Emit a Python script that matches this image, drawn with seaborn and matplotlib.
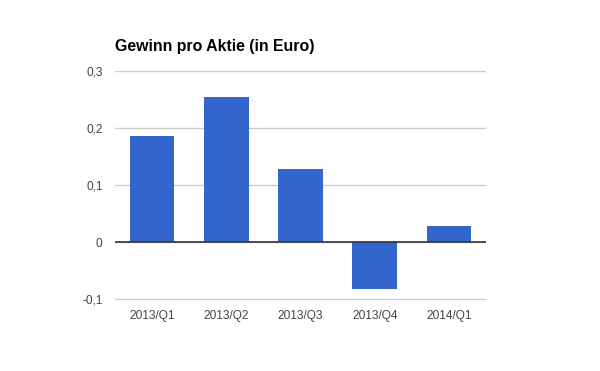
import matplotlib
matplotlib.use("Agg")
import matplotlib.pyplot as plt
import seaborn as sns
import pandas as pd

# Daten
quartale = ['2013/Q1', '2013/Q2', '2013/Q3', '2013/Q4', '2014/Q1']
gewinn = [0.187, 0.255, 0.129, -0.081, 0.029]
y_ticks = [-0.1, 0, 0.1, 0.2, 0.3]
y_labels = ['-0,1', '0', '0,1', '0,2', '0,3']

sns.set_style('white')
plt.rcParams['font.family'] = ['Liberation Sans', 'DejaVu Sans']

df = pd.DataFrame({'Quartal': quartale, 'Gewinn': gewinn})

fig = plt.figure(figsize=(6, 3.71), dpi=100)
ax = fig.add_axes([0.1917, 0.1915, 0.6183, 0.618])

sns.barplot(x='Quartal', y='Gewinn', data=df, color='#3366cc', saturation=1,
            width=0.6, linewidth=0, edgecolor='none', ax=ax, zorder=3)

ax.set_ylim(-0.101, 0.301)
ax.set_xlim(-0.5, 4.5)
ax.set_yticks(y_ticks)
ax.set_yticklabels(y_labels)
ax.grid(axis='y', color='#cccccc', linewidth=1, zorder=0)
ax.axhline(0, color='#333333', linewidth=1.2, zorder=4)

for s in ax.spines.values():
    s.set_visible(False)
ax.tick_params(axis='both', length=0, labelsize=8.6, labelcolor='#444444')
ax.tick_params(axis='y', pad=9)
ax.tick_params(axis='x', pad=7.5)
ax.set_xlabel('')
ax.set_ylabel('')

fig.text(115 / 600, 1 - 51 / 371, 'Gewinn pro Aktie (in Euro)', fontsize=11.4,
         fontweight='bold', color='#000000', ha='left', va='baseline')

fig.savefig('out.png', dpi=100)
